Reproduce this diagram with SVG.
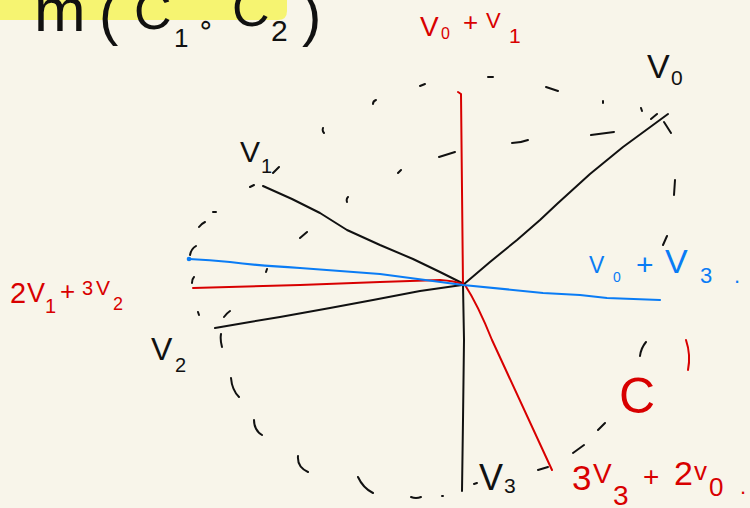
<svg xmlns="http://www.w3.org/2000/svg" width="750" height="508" viewBox="0 0 750 508">
<style>
  .k{fill:none;stroke:#111;stroke-width:2;stroke-linecap:round;stroke-linejoin:round}
  .rl{fill:none;stroke:#d80000;stroke-width:2;stroke-linecap:round;stroke-linejoin:round}
  .bl{fill:none;stroke:#0a7cf5;stroke-width:2.2;stroke-linecap:round;stroke-linejoin:round}
  text{font-family:"Liberation Sans","DejaVu Sans",sans-serif}
  .tk{fill:#111}
  .tr{fill:#d80000}
  .tb{fill:#0a7cf5}
</style>
<rect x="0" y="0" width="750" height="508" fill="#f8f5ea"/>

<g id="title">
  <path d="M0,0 H287 V11 Q287,20 278,20 H0 Z" fill="#f6f471"/>
  <text class="tk"><tspan x="34" y="31" font-size="62">m</tspan><tspan x="99" y="34" font-size="58">(</tspan><tspan x="134" y="29" font-size="52">C</tspan><tspan x="174" y="47" font-size="26">1</tspan><tspan x="197" y="34" font-size="28">∘</tspan><tspan x="232" y="26" font-size="52">C</tspan><tspan x="271" y="41" font-size="30">2</tspan><tspan x="302" y="35" font-size="58">)</tspan></text>
</g>

<g id="circle">
  <path class="k" d="M420,86 L425,84 M373,104 Q373,101 376,100 M323,128 Q322,131 324,133 M439,157 L455,152 M398,173 L401,170 M347,202 Q346,199 348,197 M300,238 L307,232 M250,187 L254,185 M273,173 L279,167 M213,212 L216,212 M199,227 Q201,224 205,222 M190,255 Q191,249 196,246 M192,283 Q192,279 194,277 M266,272 L267,269 M198,312 L199,315 M224,317 Q227,313 230,311 M221,334 Q220,340 222,347 M231,378 Q232,390 239,397 M254,420 Q254,430 262,435 M298,456 Q297,467 308,472 M358,477 Q363,488 373,493 M411,497 Q416,499 421,497 M442,496 L443,496 M474,484 L477,483 M573,453 L584,445 M598,430 L605,423 M640,356 Q641,348 646,342 M663,245 L667,236 M675,180 L674,195 M664,122 L671,133 M651,119 L657,114 M641,108 L642,111 M603,101 L603,103 M591,135 L614,132 M512,143 Q520,143 528,140 M546,87 L558,91 M488,77 L493,77 M538,470 L548,467"/>
</g>

<g id="connectors">
  <path id="v0" class="k" d="M463,285 L490,262 L517,240 L540,220 L557,204 L590,174 L623,147 L668,114"/>
  <path id="v1" class="k" d="M263,186 L292,199 L320,213 L347,230 L380,245 L413,259 L440,272 L462,283"/>
  <path id="v2" class="k" d="M215,328 L250,322 L280,317 L330,308 L373,300 L420,291 L462,285"/>
  <path id="v3" class="k" d="M463,285 L464,340 L463,420 L462,491"/>
  <path id="v0v1" class="rl" d="M458,92 L461,94 Q462,180 463,285"/>
  <path id="v1v2" class="rl" d="M193,288 L300,285 L380,282 L440,280 Q455,281 462,284"/>
  <path id="v3v0" class="rl" d="M465,285 Q478,305 492,340 L552,470"/>
  <path id="v0v3" class="bl" d="M189,259 Q210,260 230,262 Q260,266 300,268 L380,274 L463,285 L543,293 L580,295 L607,298 L660,300"/>
  <circle cx="189" cy="259" r="2.3" fill="#0a7cf5"/>
</g>

<g id="labels">
  <text id="lab-v0v1" class="tr"><tspan x="420" y="36" font-size="28">V</tspan><tspan x="441" y="39" font-size="16">0</tspan><tspan x="463" y="31" font-size="26">+</tspan><tspan x="486" y="28" font-size="22">V</tspan><tspan x="509" y="43" font-size="21">1</tspan></text>
  <text id="lab-v0" class="tk"><tspan x="647" y="78" font-size="34">V</tspan><tspan x="671" y="85" font-size="21">0</tspan></text>
  <text id="lab-v1" class="tk"><tspan x="240" y="162" font-size="30">V</tspan><tspan x="261" y="173" font-size="20">1</tspan></text>
  <text id="lab-v1v2" class="tr"><tspan x="10" y="303" font-size="29">2</tspan><tspan x="27" y="302" font-size="27">V</tspan><tspan x="45" y="313" font-size="20">1</tspan><tspan x="60" y="300" font-size="26">+</tspan><tspan x="82" y="295" font-size="20">3</tspan><tspan x="96" y="295" font-size="21">V</tspan><tspan x="113" y="310" font-size="18">2</tspan></text>
  <text id="lab-v2" class="tk"><tspan x="151" y="360" font-size="32">V</tspan><tspan x="175" y="372" font-size="20">2</tspan></text>
  <text id="lab-v0v3" class="tb"><tspan x="589" y="273" font-size="23">V</tspan><tspan x="613" y="282" font-size="14">0</tspan><tspan x="636" y="275" font-size="30">+</tspan><tspan x="665" y="273" font-size="34">V</tspan><tspan x="700" y="283" font-size="22">3</tspan><tspan x="734" y="283" font-size="22">.</tspan></text>
  <text id="lab-v3" class="tk"><tspan x="479" y="490" font-size="36">V</tspan><tspan x="504" y="493" font-size="21">3</tspan></text>
  <text id="lab-v3v0" class="tr"><tspan x="572" y="490" font-size="35">3</tspan><tspan x="593" y="483" font-size="28">V</tspan><tspan x="613" y="505" font-size="28">3</tspan><tspan x="643" y="486" font-size="28">+</tspan><tspan x="674" y="485" font-size="34">2</tspan><tspan x="694" y="480" font-size="26">v</tspan><tspan x="709" y="496" font-size="26">0</tspan><tspan x="740" y="494" font-size="22">.</tspan></text>
  <text id="lab-c" class="tr" x="619" y="413" font-size="50">C</text>
  <path class="rl" d="M686,340 Q691,355 688,370"/>
</g>
</svg>
